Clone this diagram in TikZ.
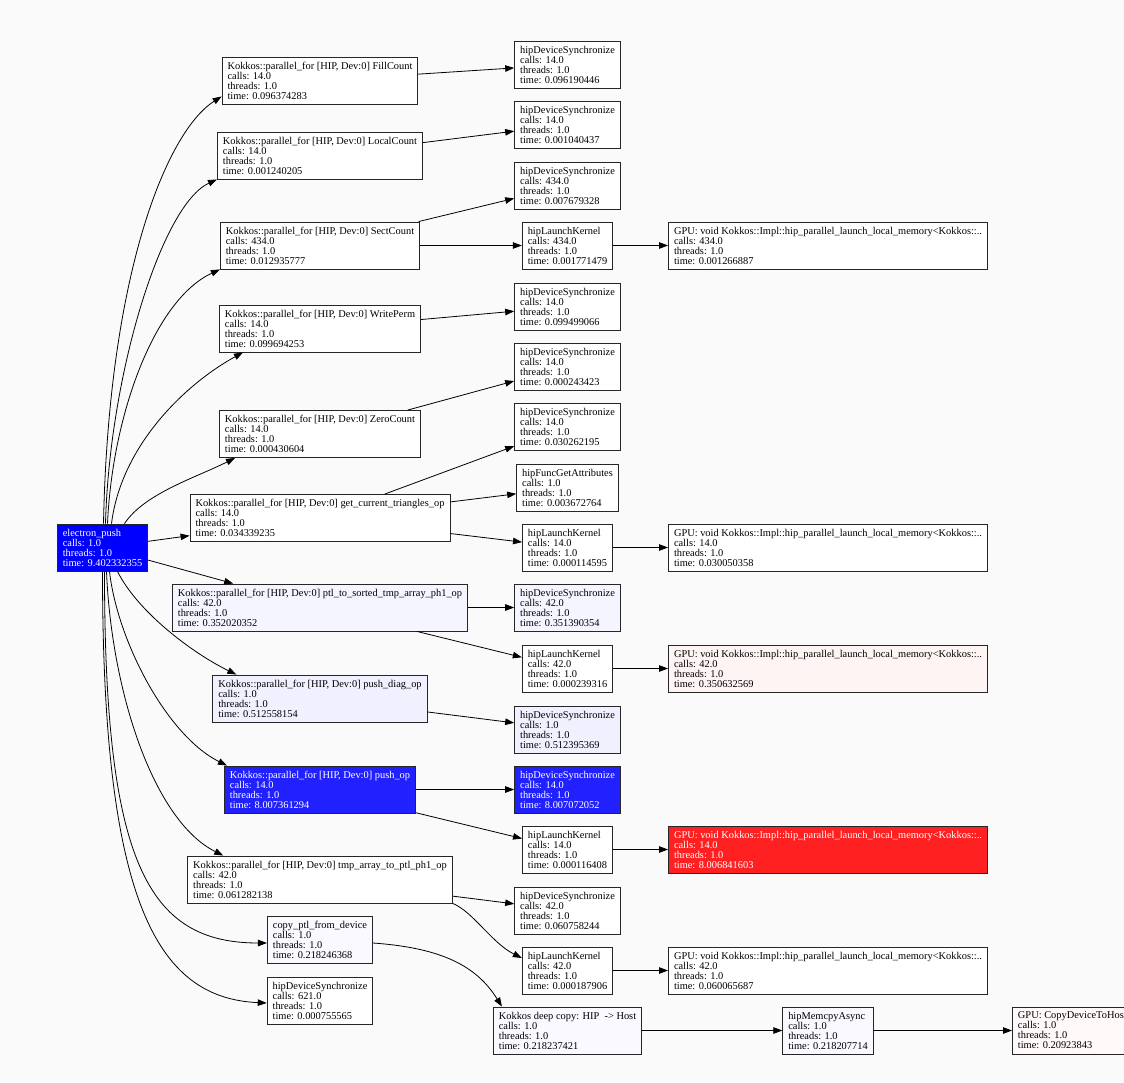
\documentclass[tikz,border=0pt]{standalone}
\usepackage{fontspec}
\setmainfont{Liberation Serif}
\usepackage{tikz}
\usetikzlibrary{arrows.meta}
\definecolor{pageGray}{rgb}{0.98,0.98,0.98}
\definecolor{hotBlue}{rgb}{0,0,1}
\definecolor{warmBlue}{rgb}{0.13,0.13,1}
\definecolor{hotRed}{rgb}{1,0.13,0.13}
\definecolor{paleBlueA}{rgb}{0.94,0.94,1}
\definecolor{paleBlueB}{rgb}{0.96,0.96,1}
\definecolor{paleBlueC}{rgb}{0.975,0.975,1}
\definecolor{paleRedA}{rgb}{1,0.955,0.955}
\definecolor{paleRedB}{rgb}{1,0.975,0.975}
\tikzstyle{prof} = [draw=black!85, line width=0.9pt, fill=white, rectangle, align=left,
        inner xsep=5.5pt, inner ysep=2pt, minimum height=47pt,
        font=\fontsize{10.4}{10}\selectfont]
\tikzstyle{hot} = [prof, text=white]
\tikzstyle{call} = [->, line width=0.8pt]
\tikzset{>={Triangle[length=9pt,width=6.5pt]}}
\newcommand{\stats}[4]{#1\\calls: #2\\threads: #3\\time: #4}

\begin{document}
\begin{tikzpicture}[x=1pt,y=-1pt]
                \useasboundingbox (0,0) rectangle (1124,1082);
                \clip (0,0) rectangle (1124,1082);
                \fill [pageGray] (0,0) rectangle (1124,1082);

                % caller and its kernels
                \draw
                    (102.5,547.5) node [hot, fill=hotBlue] (push) {\stats{electron\_push}{1.0}{1.0}{9.402332355}}
                    (320,80.5) node [prof] (fill) {\stats{Kokkos::parallel\_for [HIP, Dev:0] FillCount}{14.0}{1.0}{0.096374283}}
                    (320,155.5) node [prof] (local) {\stats{Kokkos::parallel\_for [HIP, Dev:0] LocalCount}{14.0}{1.0}{0.001240205}}
                    (320,245.5) node [prof] (sect) {\stats{Kokkos::parallel\_for [HIP, Dev:0] SectCount}{434.0}{1.0}{0.012935777}}
                    (320,328.5) node [prof] (write) {\stats{Kokkos::parallel\_for [HIP, Dev:0] WritePerm}{14.0}{1.0}{0.099694253}}
                    (320,434) node [prof] (zero) {\stats{Kokkos::parallel\_for [HIP, Dev:0] ZeroCount}{14.0}{1.0}{0.000430604}}
                    (320,518) node [prof] (tri) {\stats{Kokkos::parallel\_for [HIP, Dev:0] get\_current\_triangles\_op}{14.0}{1.0}{0.034339235}}
                    (320,607.5) node [prof, fill=paleBlueB] (sorted) {\stats{Kokkos::parallel\_for [HIP, Dev:0] ptl\_to\_sorted\_tmp\_array\_ph1\_op}{42.0}{1.0}{0.352020352}}
                    (320,698.5) node [prof, fill=paleBlueA] (diag) {\stats{Kokkos::parallel\_for [HIP, Dev:0] push\_diag\_op}{1.0}{1.0}{0.512558154}}
                    (320,789.5) node [hot, fill=warmBlue] (pushop) {\stats{Kokkos::parallel\_for [HIP, Dev:0] push\_op}{14.0}{1.0}{8.007361294}}
                    (320,879.5) node [prof] (tmp) {\stats{Kokkos::parallel\_for [HIP, Dev:0] tmp\_array\_to\_ptl\_ph1\_op}{42.0}{1.0}{0.061282138}}
                    (320,939.5) node [prof, fill=paleBlueC] (copy) {\stats{copy\_ptl\_from\_device}{1.0}{1.0}{0.218246368}}
                    (320,1000.5) node [prof] (sync) {\stats{hipDeviceSynchronize}{621.0}{1.0}{0.000755565}};

                % runtime calls
                \draw
                    (567.5,64.5) node [prof] (fillsync) {\stats{hipDeviceSynchronize}{14.0}{1.0}{0.096190446}}
                    (567.5,124.5) node [prof] (localsync) {\stats{hipDeviceSynchronize}{14.0}{1.0}{0.001040437}}
                    (567.5,185.5) node [prof] (sectsync) {\stats{hipDeviceSynchronize}{434.0}{1.0}{0.007679328}}
                    (567.5,245.5) node [prof] (sectlaunch) {\stats{hipLaunchKernel}{434.0}{1.0}{0.001771479}}
                    (567.5,306.5) node [prof] (writesync) {\stats{hipDeviceSynchronize}{14.0}{1.0}{0.099499066}}
                    (567.5,366.5) node [prof] (zerosync) {\stats{hipDeviceSynchronize}{14.0}{1.0}{0.000243423}}
                    (567.5,426.5) node [prof] (trisync) {\stats{hipDeviceSynchronize}{14.0}{1.0}{0.030262195}}
                    (567.5,487.5) node [prof] (triattr) {\stats{hipFuncGetAttributes}{1.0}{1.0}{0.003672764}}
                    (567.5,547.5) node [prof] (trilaunch) {\stats{hipLaunchKernel}{14.0}{1.0}{0.000114595}}
                    (567.5,607.5) node [prof, fill=paleBlueB] (sortsync) {\stats{hipDeviceSynchronize}{42.0}{1.0}{0.351390354}}
                    (567.5,668.5) node [prof] (sortlaunch) {\stats{hipLaunchKernel}{42.0}{1.0}{0.000239316}}
                    (567.5,729.5) node [prof, fill=paleBlueA] (diagsync) {\stats{hipDeviceSynchronize}{1.0}{1.0}{0.512395369}}
                    (567.5,789.5) node [hot, fill=warmBlue] (pushsync) {\stats{hipDeviceSynchronize}{14.0}{1.0}{8.007072052}}
                    (567.5,849.5) node [prof] (pushlaunch) {\stats{hipLaunchKernel}{14.0}{1.0}{0.000116408}}
                    (567.5,910.5) node [prof] (tmpsync) {\stats{hipDeviceSynchronize}{42.0}{1.0}{0.060758244}}
                    (567.5,970.5) node [prof] (tmplaunch) {\stats{hipLaunchKernel}{42.0}{1.0}{0.000187906}}
                    (567.5,1030.5) node [prof, fill=paleBlueC] (deepcopy) {\stats{Kokkos deep copy: HIP~ -> Host}{1.0}{1.0}{0.218237421}};

                % device side
                \draw
                    (828,245.5) node [prof] (sectgpu) {\stats{GPU: void Kokkos::Impl::hip\_parallel\_launch\_local\_memory<Kokkos::..}{434.0}{1.0}{0.001266887}}
                    (828,547.5) node [prof] (trigpu) {\stats{GPU: void Kokkos::Impl::hip\_parallel\_launch\_local\_memory<Kokkos::..}{14.0}{1.0}{0.030050358}}
                    (828,668.5) node [prof, fill=paleRedA] (sortgpu) {\stats{GPU: void Kokkos::Impl::hip\_parallel\_launch\_local\_memory<Kokkos::..}{42.0}{1.0}{0.350632569}}
                    (828,849.5) node [hot, fill=hotRed] (pushgpu) {\stats{GPU: void Kokkos::Impl::hip\_parallel\_launch\_local\_memory<Kokkos::..}{14.0}{1.0}{8.006841603}}
                    (828,970.5) node [prof] (tmpgpu) {\stats{GPU: void Kokkos::Impl::hip\_parallel\_launch\_local\_memory<Kokkos::..}{42.0}{1.0}{0.060065687}}
                    (828,1030.5) node [prof, fill=paleBlueC] (memcpy) {\stats{hipMemcpyAsync}{1.0}{1.0}{0.218207714}}
                    (1012,1030.5) node [prof, fill=paleRedB, anchor=west] (dtoh) {\stats{GPU: CopyDeviceToHost}{1.0}{1.0}{0.20923843}};

                \draw [call] ([xshift=1pt]push.north) .. controls +(5,-250) and +(-55,35) .. ([yshift=8pt]fill.south west);
                \draw [call] ([xshift=3pt]push.north) .. controls +(4,-150) and +(-55,25) .. (local.south west);
                \draw [call] ([xshift=5pt]push.north) .. controls +(5,-110) and +(-65,30) .. (sect.south west);
                \draw [call] ([xshift=9pt]push.north) .. controls +(10,-80) and +(-55,30) .. ([xshift=24pt]write.south west);
                \draw [call] ([xshift=22pt]push.north) .. controls +(20,-30) and +(-40,20) .. ([xshift=16pt]zero.south west);
                \draw [call] (push) -- (tri);
                \draw [call] (push) -- (sorted);
                \draw [call] ([xshift=15pt]push.south) .. controls +(20,40) and +(-45,-22) .. ([xshift=24pt]diag.north west);
                \draw [call] ([xshift=7pt]push.south) .. controls +(8,70) and +(-60,-30) .. ([xshift=3pt]pushop.north west);
                \draw [call] ([xshift=4pt]push.south) .. controls +(5,120) and +(-70,-35) .. ([xshift=36pt]tmp.north west);
                \draw [call] ([xshift=2pt]push.south) .. controls +(0,290) and +(-120,0) .. ([yshift=-3.5pt]copy.west);
                \draw [call] (push.south) .. controls +(0,330) and +(-110,-5) .. ([yshift=-2.5pt]sync.west);

                \draw [call] (fill) -- (fillsync);
                \draw [call] (local) -- (localsync);
                \draw [call] (sect) -- (sectsync);
                \draw [call] (sect) -- (sectlaunch);
                \draw [call] (sectlaunch) -- (sectgpu);
                \draw [call] (write) -- (writesync);
                \draw [call] (zero) -- (zerosync);
                \draw [call] (tri) -- (trisync);
                \draw [call] (tri) -- (triattr);
                \draw [call] (tri) -- (trilaunch);
                \draw [call] (trilaunch) -- (trigpu);
                \draw [call] (sorted) -- (sortsync);
                \draw [call] (sorted) -- (sortlaunch);
                \draw [call] (sortlaunch) -- (sortgpu);
                \draw [call] (diag) -- (diagsync);
                \draw [call] (pushop) -- (pushsync);
                \draw [call] (pushop) -- (pushlaunch);
                \draw [call] (pushlaunch) -- (pushgpu);
                \draw [call] (tmp) -- (tmpsync);
                \draw [call] (tmp.south east) .. controls +(20,8) and +(-30,-15) .. ([yshift=12.5pt]tmplaunch.west);
                \draw [call] (tmplaunch) -- (tmpgpu);
                \draw [call] ([yshift=-3.5pt]copy.east) .. controls +(70,5) and +(-25,-40) .. ([xshift=9pt]deepcopy.north west);
                \draw [call] (deepcopy) -- (memcpy);
                \draw [call] (memcpy) -- (dtoh);
            \end{tikzpicture}
\end{document}
